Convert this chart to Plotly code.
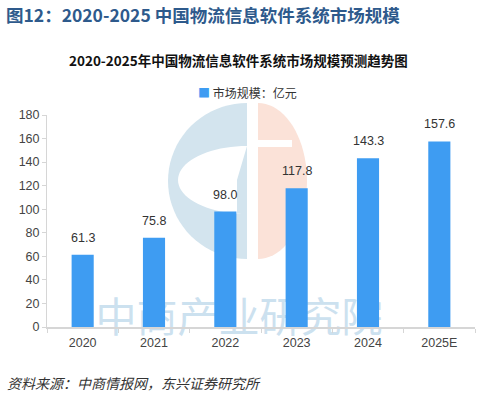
import math
import plotly.graph_objects as go

years = ["2020", "2021", "2022", "2023", "2024", "2025E"]
values = [61.3, 75.8, 98.0, 117.8, 143.3, 157.6]
labels = ["61.3", "75.8", "98.0", "117.8", "143.3", "157.6"]
y_ticks = [0, 20, 40, 60, 80, 100, 120, 140, 160, 180]

num_font = "Liberation Sans Narrow, Liberation Sans, Arial, sans-serif"
cjk = "Noto Sans CJK SC, sans-serif"

W, H = 486, 399
PL, PR, PT, PB = 47, 475, 115, 327  # plot area in page pixels


def px(sx):
    return (sx - PL) / (PR - PL)


def py(sy):
    return (PB - sy) / (PB - PT)


def ellipse_path(cx, cy, rx, ry, a0, a1, n=40, extra=None):
    pts = []
    for i in range(n + 1):
        a = math.radians(a0 + (a1 - a0) * i / n)
        pts.append((cx + rx * math.cos(a), cy - ry * math.sin(a)))
    if extra:
        pts += extra
    return "M " + " L ".join(f"{px(x):.4f},{py(y):.4f}" for x, y in pts) + " Z"


fig = go.Figure()
fig.add_trace(go.Bar(
    x=years, y=values,
    marker=dict(color="#3E9CF2", line=dict(width=0)),
    width=0.31, name="市场规模：亿元", hoverinfo="skip",
))

# value labels: category axis positions are serial indices
for i, (v, lab) in enumerate(zip(values, labels)):
    fig.add_annotation(x=i, y=v, text=lab, showarrow=False, yshift=17,
                       yanchor="middle",
                       font=dict(family=num_font, size=12.5, color="#333333"))

shapes = []
blue_l = "#D3E4EE"
pink_l = "#FBE2D8"
shapes.append(dict(type="path", xref="paper", yref="paper", layer="below",
                   path=ellipse_path(247, 181, 79, 78, 90, 270),
                   fillcolor=blue_l, line=dict(width=0)))
shapes.append(dict(type="path", xref="paper", yref="paper", layer="below",
                   path=ellipse_path(247, 180, 69, 34, 90, 270,
                                     extra=[(237, 214), (237, 180)]),
                   fillcolor="white", line=dict(width=0)))
shapes.append(dict(type="path", xref="paper", yref="paper", layer="below",
                   path=ellipse_path(258, 181, 49, 78, -90, 90),
                   fillcolor=pink_l, line=dict(width=0)))
shapes.append(dict(type="rect", xref="paper", yref="paper", layer="below",
                   x0=px(258), x1=px(292), y0=py(147), y1=py(140),
                   fillcolor="white", line=dict(width=0)))
shapes.append(dict(type="rect", xref="paper", yref="paper", layer="below",
                   x0=px(88), x1=px(390), y0=py(346), y1=py(296),
                   fillcolor="rgba(0,0,0,0)", line=dict(width=0),
                   label=dict(text="中商产业研究院", textposition="middle center",
                              font=dict(family=cjk, size=41, color="#CCE1EF"))))

fig.update_layout(
    width=W, height=H,
    margin=dict(l=PL, r=W - PR, t=PT, b=H - PB),
    paper_bgcolor="white", plot_bgcolor="white",
    showlegend=False,
    shapes=shapes,
    xaxis=dict(type="category", showline=True, linecolor="#D6D6D6", linewidth=1.5,
               ticks="outside", tickson="boundaries", ticklen=4, tickcolor="#D6D6D6",
               ticklabelstandoff=3,
               tickfont=dict(family=num_font, size=12.5, color="#444444")),
    yaxis=dict(range=[0, 180], tickvals=y_ticks, showgrid=False,
               showline=True, linecolor="#D6D6D6", linewidth=1,
               ticks="outside", ticklen=4, tickcolor="#D6D6D6",
               tickfont=dict(family=num_font, size=12.5, color="#444444"),
               zeroline=False),
)

fig.add_annotation(text="<b>图12：2020-2025 中国物流信息软件系统市场规模</b>",
                   xref="paper", yref="paper", x=px(4), y=py(14),
                   xanchor="left", yanchor="middle", showarrow=False,
                   font=dict(family=cjk, size=17.5, color="#2E5A8C"))
fig.add_annotation(text="<b>2020-2025年中国物流信息软件系统市场规模预测趋势图</b>",
                   xref="paper", yref="paper", x=px(238), y=py(60),
                   xanchor="center", yanchor="middle", showarrow=False,
                   font=dict(family=cjk, size=13.5, color="#111111"))
fig.add_annotation(text="<span style='color:#3E9CF2'>■</span> 市场规模：亿元",
                   xref="paper", yref="paper", x=px(247), y=py(92),
                   xanchor="center", yanchor="middle", showarrow=False,
                   font=dict(family=cjk, size=12, color="#333333"))
fig.add_annotation(text="<i>资料来源：中商情报网，东兴证券研究所</i>",
                   xref="paper", yref="paper", x=px(5), y=py(383),
                   xanchor="left", yanchor="middle", showarrow=False,
                   font=dict(family=cjk, size=14, color="#333333"))

fig.write_html("out.html", config={"displayModeBar": False},
               post_script="document.body.style.margin='0';document.body.style.overflow='hidden';")
